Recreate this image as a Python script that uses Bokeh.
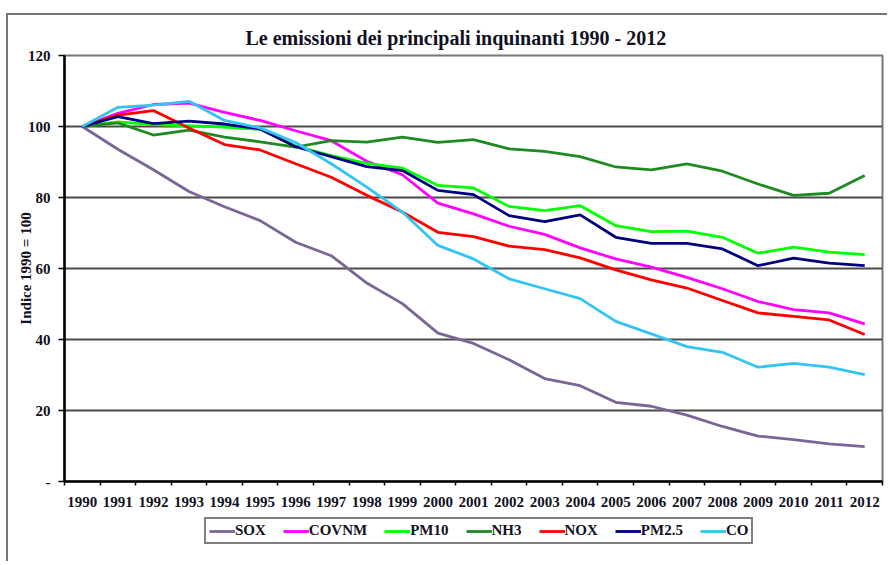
from bokeh.plotting import figure
from bokeh.layouts import column
from bokeh.models import FixedTicker, Legend, LegendItem, Range1d
from bokeh.embed import file_html
from bokeh.resources import INLINE

years = list(range(1990, 2013))
SOX = [100, 93.6, 87.8, 81.7, 77.4, 73.5, 67.4, 63.6, 55.9, 50.1, 41.8, 38.9, 34.3, 29.0, 27.0, 22.3, 21.2, 18.7, 15.5, 12.8, 11.8, 10.6, 9.8]
COVNM = [100, 103.7, 106.2, 106.6, 104.0, 101.7, 98.8, 96.0, 90.2, 86.4, 78.4, 75.4, 71.9, 69.6, 65.8, 62.7, 60.4, 57.5, 54.3, 50.7, 48.4, 47.5, 44.4]
PM10 = [100, 101.3, 100.5, 100.2, 99.8, 99.2, 94.5, 91.8, 89.6, 88.3, 83.4, 82.7, 77.5, 76.3, 77.7, 72.1, 70.4, 70.5, 68.8, 64.3, 66.0, 64.6, 63.9]
NH3 = [100, 101.0, 97.6, 99.0, 97.0, 95.7, 94.2, 96.0, 95.6, 97.0, 95.5, 96.3, 93.7, 93.0, 91.5, 88.6, 87.8, 89.5, 87.4, 83.8, 80.6, 81.2, 86.2]
NOX = [100, 103.2, 104.5, 99.6, 94.9, 93.4, 89.5, 85.7, 80.6, 75.9, 70.2, 69.0, 66.3, 65.3, 63.0, 59.6, 56.8, 54.5, 51.0, 47.5, 46.5, 45.5, 41.4]
PM25 = [100, 102.8, 100.8, 101.5, 100.7, 99.3, 94.3, 91.5, 88.7, 87.6, 82.0, 80.8, 74.9, 73.2, 75.1, 68.8, 67.1, 67.1, 65.5, 60.8, 62.9, 61.5, 60.8]
CO = [100, 105.4, 106.0, 107.1, 101.7, 99.6, 95.5, 89.5, 82.9, 75.9, 66.5, 62.7, 57.1, 54.3, 51.5, 45.1, 41.6, 38.0, 36.4, 32.2, 33.3, 32.2, 30.1]

series_names = ["SOX", "COVNM", "PM10", "NH3", "NOX", "PM2.5", "CO"]
series_values = [SOX, COVNM, PM10, NH3, NOX, PM25, CO]
series_colors = ["#7b6596", "#ff00ff", "#00ff00", "#1f8a1f", "#ff0000", "#000080", "#33c4f4"]
y_ticks = [0, 20, 40, 60, 80, 100, 120]

FONT = "Liberation Serif"
FRAME = "2px solid #777"
TXT = "#111122"

p = figure(width=881, height=496, output_backend="svg", toolbar_location=None,
           x_range=Range1d(years[0] - 0.5, years[-1] + 0.5), y_range=Range1d(0, 120),
           min_border_left=56, min_border_right=7, min_border_top=40, min_border_bottom=30)
p.styles = {"border-left": FRAME, "border-top": FRAME, "margin-top": "13px", "margin-left": "6px"}

p.title.text = "Le emissioni dei principali inquinanti 1990 - 2012"
p.title.align = "left"
p.title.offset = 181
p.title.text_font = FONT
p.title.text_font_size = "20px"
p.title.text_font_style = "bold"
p.title.text_color = TXT
p.title.standoff = 13

for name, vals, col in zip(series_names, series_values, series_colors):
    p.line(years, vals, line_color=col, line_width=2.8)

# axes
xa = p.xaxis[0]
xa.ticker = FixedTicker(ticks=years, minor_ticks=[y - 0.5 for y in years] + [years[-1] + 0.5])
xa.major_tick_out = 0
xa.major_tick_in = 0
xa.minor_tick_out = 4
xa.minor_tick_in = 0
xa.minor_tick_line_color = "black"
xa.minor_tick_line_width = 1.5
xa.major_label_standoff = 11
xa.axis_line_width = 2.5
xa.axis_line_color = "black"
xa.major_label_text_font = FONT
xa.major_label_text_font_size = "15px"
xa.major_label_text_font_style = "bold"
xa.major_label_text_color = TXT

ya = p.yaxis[0]
ya.ticker = FixedTicker(ticks=y_ticks, minor_ticks=[])
ya.major_label_overrides = {0: "-"}
ya.major_tick_out = 6
ya.major_tick_in = 0
ya.major_tick_line_width = 1.5
ya.major_label_standoff = 8
ya.axis_line_width = 2.5
ya.axis_line_color = "black"
ya.major_label_text_font = FONT
ya.major_label_text_font_size = "15px"
ya.major_label_text_font_style = "bold"
ya.major_label_text_color = TXT
ya.axis_label = "Indice 1990 = 100"
ya.axis_label_text_font = FONT
ya.axis_label_text_font_size = "15px"
ya.axis_label_text_font_style = "bold"
ya.axis_label_text_color = TXT
ya.axis_label_standoff = -9

p.xgrid.grid_line_color = None
p.ygrid.grid_line_color = "#4a4a4a"
p.ygrid.grid_line_width = 2
p.outline_line_color = "#777777"
p.outline_line_width = 2
p.background_fill_color = "white"
p.border_fill_color = "white"

# legend strip below the chart (its lines lie outside its own range, only the legend shows)
p2 = figure(width=881, height=52, output_backend="svg", toolbar_location=None,
            x_range=Range1d(0, 1), y_range=Range1d(0, 1), min_border=0)
p2.styles = {"border-left": FRAME, "margin-left": "6px"}
p2.axis.visible = False
p2.grid.grid_line_color = None
p2.outline_line_color = None
items = []
for name, vals, col in zip(series_names, series_values, series_colors):
    r = p2.line(years, vals, line_color=col, line_width=2.8)
    items.append(LegendItem(label=name, renderers=[r]))
legend = Legend(items=items, orientation="horizontal", location=(140, 17),
                label_text_font=FONT, label_text_font_size="15px", label_text_font_style="bold",
                label_text_color=TXT,
                border_line_color="black", border_line_width=2, glyph_width=26, glyph_height=14,
                label_standoff=0, spacing=17, padding=3, margin=0, background_fill_alpha=1)
p2.add_layout(legend, "center")

layout = column(p, p2, spacing=0)
open("out.html", "w").write(file_html(layout, INLINE))
